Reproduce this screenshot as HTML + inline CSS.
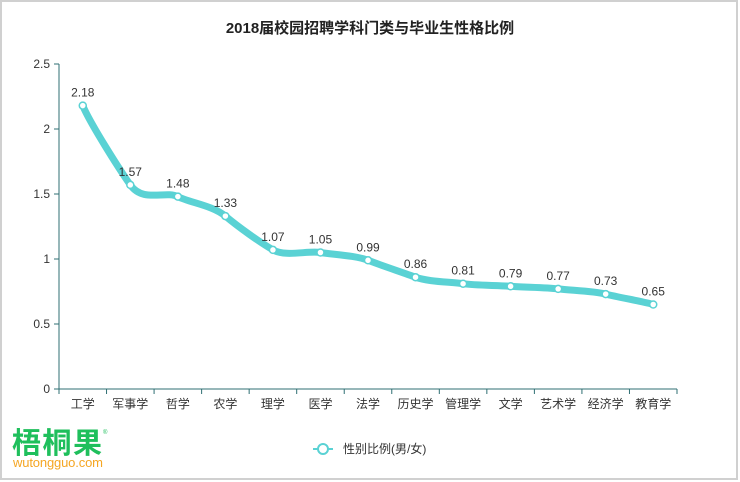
<!DOCTYPE html>
<html><head><meta charset="utf-8"><style>
body{margin:0;background:#fff;}
svg{display:block;font-family:"Liberation Sans","Noto Sans CJK SC",sans-serif;}
</style></head><body>
<svg id="c" width="740" height="482">
<rect x="1" y="1" width="736" height="478" fill="#fff" stroke="#d0d0d0" stroke-width="2"/>
<text x="370" y="33" text-anchor="middle" font-size="15" font-weight="bold" fill="#222">2018届校园招聘学科门类与毕业生性格比例</text>
<g id="axes"></g>
<path id="line" fill="none" stroke="#5ad2d4" stroke-width="7" stroke-linecap="round"/>
<g id="pts"></g>
<g>
<line x1="313" y1="449" x2="333" y2="449" stroke="#5ad2d4" stroke-width="2"/>
<circle cx="323" cy="449" r="5" fill="#fff" stroke="#5ad2d4" stroke-width="2"/>
<text x="343" y="453" font-size="12" fill="#333">性别比例(男/女)</text>
</g>
<g>
<text x="12" y="453" font-size="29" font-weight="bold" fill="#1fbf5c" textLength="90">梧桐果</text>
<text x="103" y="434" font-size="6" fill="#1fbf5c">®</text>
<text x="13" y="467" font-size="13" fill="#f5a623" textLength="90">wutongguo.com</text>
</g>
</svg>
<script>
const categories=["工学","军事学","哲学","农学","理学","医学","法学","历史学","管理学","文学","艺术学","经济学","教育学"];
const values=[2.18,1.57,1.48,1.33,1.07,1.05,0.99,0.86,0.81,0.79,0.77,0.73,0.65];
const yTicks=[0,0.5,1,1.5,2,2.5];
const ns="http://www.w3.org/2000/svg";
const L=59,R=677,T=64,B=389,yMax=2.5;
const bw=(R-L)/categories.length;
const xs=i=>L+bw*(i+0.5);
const ys=v=>B-(v/yMax)*(B-T);
function el(t,a,p){const e=document.createElementNS(ns,t);for(const k in a)e.setAttribute(k,a[k]);p.appendChild(e);return e;}
const ax=document.getElementById('axes');
const axc="#2f6f73";
let a=el('line',{x1:L,y1:T,x2:L,y2:B,stroke:axc},ax);


a=el('line',{x1:L,y1:B,x2:R,y2:B,stroke:axc},ax);


yTicks.forEach(v=>{const y=ys(v);
el('line',{x1:L-5,y1:y,x2:L,y2:y,stroke:axc},ax);
const t=el('text',{x:L-9,y:y+4,'text-anchor':'end','font-size':12,fill:'#333'},ax);t.textContent=v;

});
for(let i=0;i<=categories.length;i++){const x=L+bw*i;el('line',{x1:x,y1:B,x2:x,y2:B+5,stroke:axc},ax);}
categories.forEach((c,i)=>{const t=el('text',{x:xs(i),y:B+19,'text-anchor':'middle','font-size':12,fill:'#333'},ax);t.textContent=c;

});
const P=values.map((v,i)=>[xs(i),ys(v)]);
let d=`M${P[0][0]},${P[0][1]}`;
for(let i=0;i<P.length-1;i++){const p0=P[i-1]||P[i],p1=P[i],p2=P[i+1],p3=P[i+2]||p2;const s=0.2;
const c1=[p1[0]+(p2[0]-p0[0])*s/1.5,p1[1]+(p2[1]-p0[1])*s];
const c2=[p2[0]-(p3[0]-p1[0])*s/1.5,p2[1]-(p3[1]-p1[1])*s];
d+=` C${c1[0]},${c1[1]} ${c2[0]},${c2[1]} ${p2[0]},${p2[1]}`;}
document.getElementById('line').setAttribute('d',d);
const g=document.getElementById('pts');
P.forEach((p,i)=>{const c=el('circle',{cx:p[0],cy:p[1],r:3.5,fill:'#fff',stroke:'#5ad2d4','stroke-width':1.5},g);


const t=el('text',{x:p[0],y:p[1]-9,'text-anchor':'middle','font-size':12,fill:'#333'},g);t.textContent=values[i];

});
</script>
</body></html>
